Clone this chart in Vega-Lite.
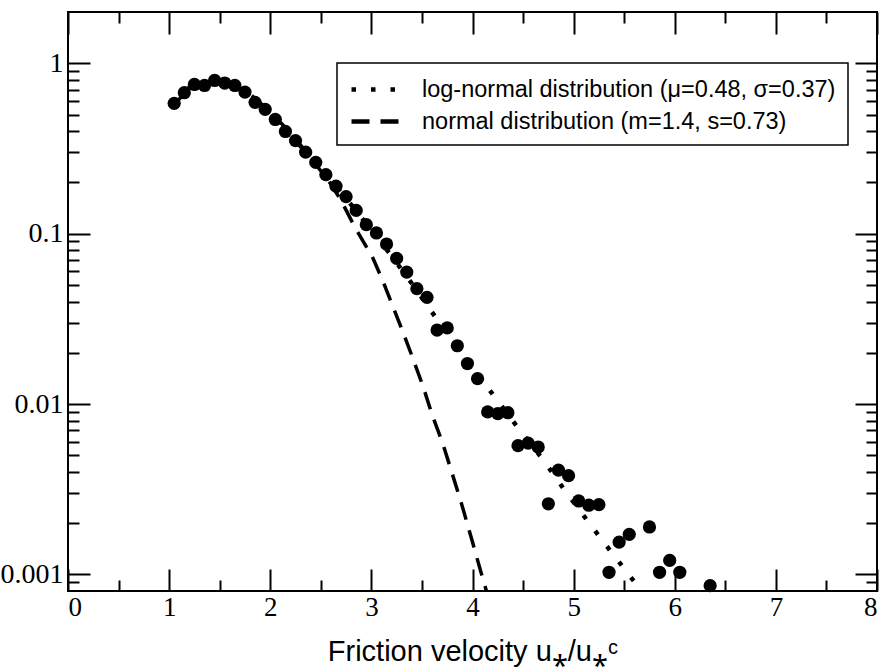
{
  "$schema": "https://vega.github.io/schema/vega-lite/v6.json",
  "autosize": {"type": "none"},
  "padding": {"left": 68, "top": 12, "right": 10, "bottom": 76},
  "width": 809,
  "height": 579,
  "background": "white",
  "config": {
    "view": {"stroke": "black", "strokeWidth": 2},
    "axis": {"domain": false, "grid": false, "tickColor": "black", "tickWidth": 2, "labelColor": "black", "titleColor": "black"}
  },
  "datasets": {
    "pts": [
      {"x": 1.05, "y": 0.582}, {"x": 1.15, "y": 0.672}, {"x": 1.25, "y": 0.751}, {"x": 1.35, "y": 0.741},
      {"x": 1.45, "y": 0.793}, {"x": 1.55, "y": 0.766}, {"x": 1.65, "y": 0.741}, {"x": 1.75, "y": 0.678},
      {"x": 1.85, "y": 0.590}, {"x": 1.95, "y": 0.537}, {"x": 2.05, "y": 0.468}, {"x": 2.15, "y": 0.398},
      {"x": 2.25, "y": 0.352}, {"x": 2.35, "y": 0.301}, {"x": 2.45, "y": 0.262}, {"x": 2.55, "y": 0.222},
      {"x": 2.65, "y": 0.190}, {"x": 2.75, "y": 0.165}, {"x": 2.85, "y": 0.137}, {"x": 2.95, "y": 0.113},
      {"x": 3.05, "y": 0.101}, {"x": 3.15, "y": 0.087}, {"x": 3.25, "y": 0.0716}, {"x": 3.35, "y": 0.0595},
      {"x": 3.45, "y": 0.0476}, {"x": 3.55, "y": 0.0423}, {"x": 3.65, "y": 0.0272}, {"x": 3.75, "y": 0.0280},
      {"x": 3.85, "y": 0.0220}, {"x": 3.95, "y": 0.0173}, {"x": 4.05, "y": 0.0141}, {"x": 4.15, "y": 0.0090},
      {"x": 4.25, "y": 0.0088}, {"x": 4.35, "y": 0.0089}, {"x": 4.45, "y": 0.0057}, {"x": 4.55, "y": 0.0059},
      {"x": 4.65, "y": 0.0056}, {"x": 4.75, "y": 0.0026}, {"x": 4.85, "y": 0.0041}, {"x": 4.95, "y": 0.0038},
      {"x": 5.05, "y": 0.0027}, {"x": 5.15, "y": 0.00255}, {"x": 5.25, "y": 0.00257}, {"x": 5.35, "y": 0.00103},
      {"x": 5.45, "y": 0.00155}, {"x": 5.55, "y": 0.00172}, {"x": 5.75, "y": 0.0019}, {"x": 5.85, "y": 0.00103},
      {"x": 5.95, "y": 0.00121}, {"x": 6.05, "y": 0.00103}, {"x": 6.35, "y": 0.00086}
    ],
    "curves": [
      {"series": "log-normal distribution (μ=0.48, σ=0.37)", "x": 1.05, "y": 0.58},
      {"series": "log-normal distribution (μ=0.48, σ=0.37)", "x": 1.2, "y": 0.72},
      {"series": "log-normal distribution (μ=0.48, σ=0.37)", "x": 1.4, "y": 0.78},
      {"series": "log-normal distribution (μ=0.48, σ=0.37)", "x": 1.6, "y": 0.76},
      {"series": "log-normal distribution (μ=0.48, σ=0.37)", "x": 1.8, "y": 0.65},
      {"series": "log-normal distribution (μ=0.48, σ=0.37)", "x": 2.0, "y": 0.51},
      {"series": "log-normal distribution (μ=0.48, σ=0.37)", "x": 2.2, "y": 0.38},
      {"series": "log-normal distribution (μ=0.48, σ=0.37)", "x": 2.4, "y": 0.28},
      {"series": "log-normal distribution (μ=0.48, σ=0.37)", "x": 2.6, "y": 0.205},
      {"series": "log-normal distribution (μ=0.48, σ=0.37)", "x": 2.8, "y": 0.148},
      {"series": "log-normal distribution (μ=0.48, σ=0.37)", "x": 3.0, "y": 0.105},
      {"series": "log-normal distribution (μ=0.48, σ=0.37)", "x": 3.2, "y": 0.074},
      {"series": "log-normal distribution (μ=0.48, σ=0.37)", "x": 3.4, "y": 0.051},
      {"series": "log-normal distribution (μ=0.48, σ=0.37)", "x": 3.64, "y": 0.032},
      {"series": "log-normal distribution (μ=0.48, σ=0.37)", "x": 3.9, "y": 0.0195},
      {"series": "log-normal distribution (μ=0.48, σ=0.37)", "x": 4.216, "y": 0.0111},
      {"series": "log-normal distribution (μ=0.48, σ=0.37)", "x": 4.447, "y": 0.0073},
      {"series": "log-normal distribution (μ=0.48, σ=0.37)", "x": 4.7, "y": 0.0047},
      {"series": "log-normal distribution (μ=0.48, σ=0.37)", "x": 4.915, "y": 0.0031},
      {"series": "log-normal distribution (μ=0.48, σ=0.37)", "x": 5.146, "y": 0.00203},
      {"series": "log-normal distribution (μ=0.48, σ=0.37)", "x": 5.378, "y": 0.00134},
      {"series": "log-normal distribution (μ=0.48, σ=0.37)", "x": 5.618, "y": 0.00088},
      {"series": "log-normal distribution (μ=0.48, σ=0.37)", "x": 5.72, "y": 0.00074},
      {"series": "normal distribution (m=1.4, s=0.73)", "x": 1.05, "y": 0.58},
      {"series": "normal distribution (m=1.4, s=0.73)", "x": 1.2, "y": 0.7},
      {"series": "normal distribution (m=1.4, s=0.73)", "x": 1.4, "y": 0.77},
      {"series": "normal distribution (m=1.4, s=0.73)", "x": 1.6, "y": 0.75},
      {"series": "normal distribution (m=1.4, s=0.73)", "x": 1.8, "y": 0.66},
      {"series": "normal distribution (m=1.4, s=0.73)", "x": 2.0, "y": 0.52},
      {"series": "normal distribution (m=1.4, s=0.73)", "x": 2.2, "y": 0.39},
      {"series": "normal distribution (m=1.4, s=0.73)", "x": 2.4, "y": 0.28},
      {"series": "normal distribution (m=1.4, s=0.73)", "x": 2.6, "y": 0.195},
      {"series": "normal distribution (m=1.4, s=0.73)", "x": 2.7, "y": 0.157},
      {"series": "normal distribution (m=1.4, s=0.73)", "x": 2.83, "y": 0.111},
      {"series": "normal distribution (m=1.4, s=0.73)", "x": 3.01, "y": 0.073},
      {"series": "normal distribution (m=1.4, s=0.73)", "x": 3.11, "y": 0.0534},
      {"series": "normal distribution (m=1.4, s=0.73)", "x": 3.315, "y": 0.0262},
      {"series": "normal distribution (m=1.4, s=0.73)", "x": 3.414, "y": 0.0183},
      {"series": "normal distribution (m=1.4, s=0.73)", "x": 3.513, "y": 0.0126},
      {"series": "normal distribution (m=1.4, s=0.73)", "x": 3.602, "y": 0.0086},
      {"series": "normal distribution (m=1.4, s=0.73)", "x": 3.705, "y": 0.0059},
      {"series": "normal distribution (m=1.4, s=0.73)", "x": 3.8, "y": 0.0039},
      {"series": "normal distribution (m=1.4, s=0.73)", "x": 3.9, "y": 0.0025},
      {"series": "normal distribution (m=1.4, s=0.73)", "x": 4.0, "y": 0.00155},
      {"series": "normal distribution (m=1.4, s=0.73)", "x": 4.08, "y": 0.00105},
      {"series": "normal distribution (m=1.4, s=0.73)", "x": 4.16, "y": 0.00072}
    ]
  },
  "resolve": {"axis": {"x": "independent", "y": "independent"}, "scale": {"x": "shared", "y": "shared"}},
  "layer": [
    {
      "data": {"name": "curves"},
      "transform": [{"filter": "datum.series === 'log-normal distribution (μ=0.48, σ=0.37)'"}],
      "mark": {"type": "line", "color": "black", "strokeWidth": 4.5, "strokeCap": "butt", "clip": true},
      "encoding": {
        "x": {"field": "x", "type": "quantitative", "scale": {"domain": [0, 8], "nice": false, "zero": false},
          "axis": {"orient": "bottom", "values": [0, 1, 2, 3, 4, 5, 6, 7, 8], "tickSize": -22, "format": "d",
            "labelFont": "Liberation Serif", "labelFontSize": 27, "labelPadding": 25,
            "title": "Friction velocity u⁎/u⁎ᶜ", "titleFont": "Liberation Sans", "titleFontSize": 29, "titleFontWeight": "normal", "titlePadding": 17}},
        "y": {"field": "y", "type": "quantitative", "scale": {"type": "log", "domain": [0.0008, 2], "nice": false},
          "axis": {"orient": "left", "values": [1, 0.1, 0.01, 0.001], "tickSize": -22, "format": "~g",
            "labelFont": "Liberation Serif", "labelFontSize": 28, "labelPadding": 27, "title": null}},
        "strokeDash": {"field": "series", "type": "nominal",
          "scale": {"domain": ["log-normal distribution (μ=0.48, σ=0.37)", "normal distribution (m=1.4, s=0.73)"], "range": [[4.5, 15], [18, 11]]},
          "legend": {"title": null, "orient": "none", "legendX": 269, "legendY": 51, "strokeColor": "black", "fillColor": "white",
            "padding": 12, "cornerRadius": 0, "symbolType": "M-1,0H3", "symbolSize": 576, "symbolStrokeWidth": 4.5, "symbolStrokeColor": "black",
            "labelFont": "Liberation Sans", "labelFontSize": 23.5, "labelColor": "black", "labelOffset": 44, "rowPadding": 6, "labelLimit": 600,
            "encode": {"legend": {"update": {"strokeWidth": {"value": 1.5}}}}}}
      }
    },
    {
      "data": {"name": "curves"},
      "transform": [{"filter": "datum.series === 'normal distribution (m=1.4, s=0.73)'"}],
      "mark": {"type": "line", "color": "black", "strokeWidth": 3.5, "strokeCap": "butt", "clip": true},
      "encoding": {
        "x": {"field": "x", "type": "quantitative", "scale": {"domain": [0, 8], "nice": false, "zero": false},
          "axis": {"orient": "bottom", "values": [0.5, 1.5, 2.5, 3.5, 4.5, 5.5, 6.5, 7.5], "tickSize": -11, "labels": false, "title": null}},
        "y": {"field": "y", "type": "quantitative", "scale": {"type": "log", "domain": [0.0008, 2], "nice": false},
          "axis": {"orient": "left", "values": [0.0009, 0.002, 0.003, 0.004, 0.005, 0.006, 0.007, 0.008, 0.009, 0.02, 0.03, 0.04, 0.05, 0.06, 0.07, 0.08, 0.09, 0.2, 0.3, 0.4, 0.5, 0.6, 0.7, 0.8, 0.9], "tickSize": -11, "labels": false, "title": null}},
        "strokeDash": {"field": "series", "type": "nominal"}
      }
    },
    {
      "data": {"name": "pts"},
      "mark": {"type": "circle", "color": "black", "size": 175, "opacity": 1},
      "encoding": {
        "x": {"field": "x", "type": "quantitative", "scale": {"domain": [0, 8], "nice": false, "zero": false},
          "axis": {"orient": "top", "values": [0, 1, 2, 3, 4, 5, 6, 7, 8], "tickSize": -22, "labels": false, "title": null}},
        "y": {"field": "y", "type": "quantitative", "scale": {"type": "log", "domain": [0.0008, 2], "nice": false},
          "axis": {"orient": "right", "values": [1, 0.1, 0.01, 0.001], "tickSize": -22, "labels": false, "title": null}}
      }
    },
    {
      "data": {"values": []},
      "mark": {"type": "point"},
      "encoding": {
        "x": {"field": "x", "type": "quantitative", "scale": {"domain": [0, 8], "nice": false, "zero": false},
          "axis": {"orient": "top", "values": [0.5, 1.5, 2.5, 3.5, 4.5, 5.5, 6.5, 7.5], "tickSize": -11, "labels": false, "title": null}},
        "y": {"field": "y", "type": "quantitative", "scale": {"type": "log", "domain": [0.0008, 2], "nice": false},
          "axis": {"orient": "right", "values": [0.0009, 0.002, 0.003, 0.004, 0.005, 0.006, 0.007, 0.008, 0.009, 0.02, 0.03, 0.04, 0.05, 0.06, 0.07, 0.08, 0.09, 0.2, 0.3, 0.4, 0.5, 0.6, 0.7, 0.8, 0.9], "tickSize": -11, "labels": false, "title": null}}
      }
    }
  ]
}
